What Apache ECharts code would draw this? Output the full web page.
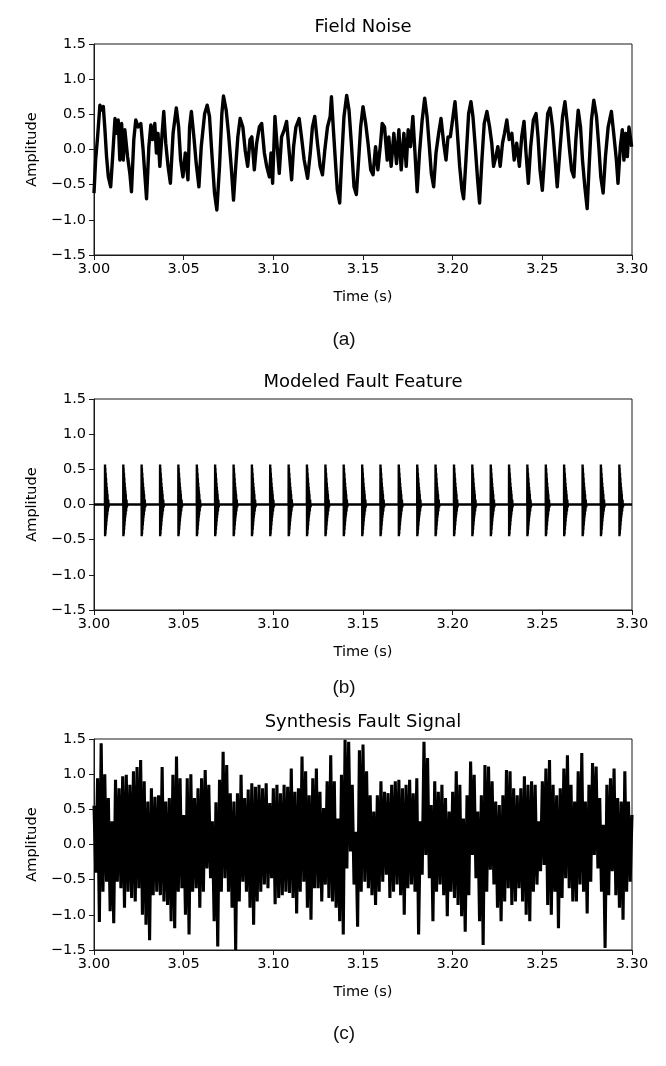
<!DOCTYPE html>
<html>
<head>
<meta charset="utf-8">
<script src="https://cdn.jsdelivr.net/npm/echarts@6/dist/echarts.min.js"></script>
<style>
html,body{margin:0;padding:0;background:#fff;}
#chart{width:666px;height:1066px;}
</style>
</head>
<body>
<div id="chart"></div>
<script>
// ---------- DATA ----------
const PANEL_TITLES = ['Field Noise', 'Modeled Fault Feature', 'Synthesis Fault Signal'];
const PANEL_TAGS = ['(a)', '(b)', '(c)'];
const X_TICKS = [3.00, 3.05, 3.10, 3.15, 3.20, 3.25, 3.30];
const Y_TICKS = [-1.5, -1.0, -0.5, 0.0, 0.5, 1.0, 1.5];

// (a) Field noise: successive turning points [time s, amplitude]
const NOISE = [
[3.0000,-0.62],[3.0009,-0.15],[3.0020,0.18],[3.0033,0.63],[3.0043,0.56],[3.0052,0.61],[3.0061,0.28],[3.0070,-0.10],
[3.0080,-0.39],[3.0093,-0.53],[3.0104,-0.10],[3.0117,0.44],[3.0126,0.23],[3.0135,0.42],[3.0144,-0.15],[3.0154,0.37],
[3.0163,-0.15],[3.0172,0.28],[3.0187,-0.10],[3.0200,-0.34],[3.0209,-0.60],[3.0222,0.14],[3.0233,0.42],[3.0246,0.32],
[3.0261,0.37],[3.0274,-0.01],[3.0283,-0.34],[3.0293,-0.70],[3.0306,0.04],[3.0317,0.35],[3.0326,0.14],[3.0339,0.37],
[3.0348,-0.05],[3.0357,0.23],[3.0367,-0.24],[3.0376,0.09],[3.0389,0.54],[3.0400,0.09],[3.0413,-0.24],[3.0426,-0.48],
[3.0441,0.23],[3.0459,0.59],[3.0472,0.32],[3.0483,-0.15],[3.0496,-0.39],[3.0509,-0.05],[3.0524,-0.43],[3.0533,0.32],
[3.0543,0.54],[3.0557,0.18],[3.0570,-0.20],[3.0585,-0.53],[3.0598,0.04],[3.0617,0.51],[3.0631,0.63],[3.0644,0.47],
[3.0657,-0.05],[3.0672,-0.62],[3.0685,-0.86],[3.0700,-0.24],[3.0713,0.51],[3.0722,0.76],[3.0737,0.56],[3.0750,0.23],
[3.0765,-0.24],[3.0778,-0.72],[3.0789,-0.29],[3.0802,0.18],[3.0815,0.44],[3.0830,0.32],[3.0843,-0.01],[3.0857,-0.24],
[3.0870,0.14],[3.0880,0.18],[3.0894,-0.29],[3.0907,0.09],[3.0922,0.32],[3.0935,0.37],[3.0950,-0.05],[3.0963,-0.24],
[3.0978,-0.39],[3.0987,-0.05],[3.0996,-0.48],[3.1009,0.47],[3.1020,0.09],[3.1033,-0.34],[3.1046,0.18],[3.1061,0.28],
[3.1074,0.40],[3.1089,-0.05],[3.1102,-0.43],[3.1113,0.04],[3.1126,0.32],[3.1144,0.44],[3.1157,0.18],[3.1172,-0.15],
[3.1191,-0.41],[3.1206,-0.05],[3.1218,0.32],[3.1231,0.47],[3.1246,0.09],[3.1261,-0.24],[3.1274,-0.36],[3.1287,-0.01],
[3.1302,0.32],[3.1317,0.47],[3.1324,0.75],[3.1335,0.28],[3.1348,-0.24],[3.1357,-0.58],[3.1370,-0.76],[3.1381,-0.15],
[3.1394,0.47],[3.1409,0.77],[3.1422,0.56],[3.1435,0.09],[3.1450,-0.53],[3.1463,-0.64],[3.1478,-0.05],[3.1487,0.32],
[3.1500,0.61],[3.1515,0.37],[3.1528,0.09],[3.1543,-0.29],[3.1556,-0.36],[3.1570,0.04],[3.1583,-0.29],[3.1598,0.09],
[3.1607,0.37],[3.1620,0.32],[3.1635,-0.15],[3.1644,0.18],[3.1657,-0.24],[3.1672,0.23],[3.1687,-0.20],[3.1700,0.28],
[3.1713,-0.29],[3.1728,0.23],[3.1741,-0.24],[3.1752,0.28],[3.1765,0.04],[3.1778,0.47],[3.1789,-0.01],[3.1802,-0.60],
[3.1815,-0.05],[3.1830,0.42],[3.1844,0.73],[3.1857,0.47],[3.1870,0.04],[3.1881,-0.34],[3.1894,-0.53],[3.1907,-0.05],
[3.1922,0.23],[3.1935,0.44],[3.1950,0.09],[3.1963,-0.15],[3.1974,0.18],[3.1987,0.18],[3.2002,0.47],[3.2013,0.68],
[3.2024,0.32],[3.2039,-0.24],[3.2052,-0.58],[3.2061,-0.70],[3.2074,-0.15],[3.2089,0.51],[3.2102,0.68],[3.2113,0.47],
[3.2126,0.04],[3.2139,-0.43],[3.2150,-0.76],[3.2163,-0.15],[3.2176,0.37],[3.2191,0.54],[3.2206,0.32],[3.2218,0.09],
[3.2228,-0.24],[3.2241,-0.10],[3.2252,0.04],[3.2265,-0.24],[3.2278,0.09],[3.2289,0.23],[3.2302,0.42],[3.2315,0.14],
[3.2330,0.23],[3.2343,-0.15],[3.2357,0.09],[3.2372,-0.24],[3.2385,0.18],[3.2398,0.40],[3.2409,-0.05],[3.2422,-0.48],
[3.2435,0.04],[3.2450,0.42],[3.2465,0.51],[3.2476,0.18],[3.2487,-0.29],[3.2500,-0.58],[3.2515,-0.01],[3.2530,0.51],
[3.2543,0.59],[3.2557,0.32],[3.2570,-0.10],[3.2583,-0.53],[3.2598,-0.01],[3.2613,0.47],[3.2626,0.68],[3.2639,0.37],
[3.2650,0.04],[3.2663,-0.29],[3.2676,-0.39],[3.2687,0.14],[3.2700,0.56],[3.2713,0.32],[3.2724,-0.15],[3.2737,-0.53],
[3.2750,-0.84],[3.2761,-0.24],[3.2774,0.42],[3.2787,0.70],[3.2802,0.47],[3.2815,0.04],[3.2826,-0.39],[3.2839,-0.62],
[3.2852,-0.10],[3.2867,0.32],[3.2885,0.54],[3.2898,0.23],[3.2913,-0.15],[3.2922,-0.48],[3.2935,0.04],[3.2946,0.28],
[3.2955,-0.15],[3.2965,0.23],[3.2974,-0.10],[3.2983,0.32],[3.2998,0.04]
];

// (b) Modeled fault feature: impulse onset times (s) and one impulse's ringing (offset s, amplitude)
const IMPULSE_TIMES = [3.0061,3.0163,3.0265,3.0368,3.0470,3.0573,3.0675,3.0778,3.0880,3.0982,
  3.1085,3.1187,3.1290,3.1392,3.1495,3.1597,3.1699,3.1802,3.1904,3.2007,
  3.2109,3.2212,3.2314,3.2416,3.2519,3.2621,3.2724,3.2826,3.2929];
const PULSE_OFFSETS = [0,0.00005,0.0001,0.0002,0.0003,0.0004,0.0005,0.0006,0.0007,0.0008,0.0009,
  0.0010,0.0011,0.0012,0.0013,0.0014,0.0016,0.0018,0.0020,0.0023];
const PULSE_VALUES = [0,0.57,-0.45,0.52,-0.42,0.45,-0.36,0.38,-0.30,0.31,-0.24,
  0.25,-0.19,0.20,-0.15,0.15,-0.10,0.07,-0.04,0];

// (c) Synthesis signal: per 2 ms window, upper and lower extremes
const SYN_START = 3.000;
const SYN_WINDOW = 0.002;
const SYN_UPPER = [
0.55,0.94,1.44,1.00,0.66,0.33,0.92,0.80,0.97,0.99,
0.85,1.04,1.10,1.20,0.90,0.61,0.80,0.68,0.70,1.10,
0.61,0.66,0.99,1.25,0.94,0.42,0.94,1.00,0.66,0.80,
0.94,1.06,0.85,0.33,0.60,0.92,1.32,1.13,0.73,0.61,
0.73,0.99,0.66,0.78,0.87,0.82,0.85,0.80,0.87,0.59,
0.80,
0.85,0.73,0.85,0.82,1.08,0.75,0.80,1.25,1.04,0.70,
0.94,1.08,0.75,0.52,0.90,1.27,0.90,0.37,0.99,1.49,
1.46,0.85,0.18,1.34,1.42,1.04,0.70,0.47,0.70,0.90,
0.75,0.73,0.85,0.90,0.92,0.80,0.85,0.92,0.73,0.94,
0.33,1.46,1.23,0.56,0.90,0.75,0.85,0.66,0.47,
0.75,1.04,0.85,0.37,0.70,1.18,0.99,0.47,0.70,1.13,
1.11,0.90,0.61,0.56,0.70,1.06,1.04,0.80,0.70,0.80,
0.97,0.85,0.90,0.85,0.33,0.90,1.08,1.20,0.85,0.70,
0.80,1.08,1.27,0.85,0.61,1.04,1.30,0.61,0.85,1.16,
1.11,0.66,0.28,0.85,0.94,1.08,0.66,0.61,1.04,0.61,
0.42
];
const SYN_LOWER = [
-0.40,-1.10,-0.67,-0.53,-0.95,-1.12,-0.53,-0.62,-0.90,-0.67,
-0.76,-0.81,-0.62,-1.00,-1.14,-1.36,-0.72,-0.67,-0.72,-0.81,
-0.86,-1.09,-1.19,-0.67,-0.62,-1.00,-1.28,-0.67,-0.62,-0.90,
-0.67,-0.34,-0.48,-1.09,-1.45,-0.67,-0.48,-0.67,-0.90,-1.50,
-0.81,-0.53,-0.67,-0.90,-1.14,-0.81,-0.67,-0.57,-0.62,-0.48,
-0.85,
-0.76,-0.72,-0.67,-0.69,-0.76,-0.98,-0.67,-0.53,-0.90,-1.07,
-0.62,-0.62,-0.81,-0.57,-0.76,-0.81,-0.90,-1.09,-1.28,-0.34,
-0.10,-0.57,-1.17,-0.67,-0.53,-0.62,-0.72,-0.86,-0.67,-0.53,
-0.43,-0.76,-0.67,-0.57,-0.72,-1.00,-0.62,-0.57,-0.67,-1.28,
-0.43,-0.15,-0.48,-1.09,-0.67,-0.57,-0.72,-1.02,-0.67,
-0.76,-0.86,-1.02,-1.24,-0.72,-0.15,-0.48,-1.09,-1.43,-0.67,
-0.36,-0.57,-0.90,-1.09,-0.81,-0.62,-0.86,-0.81,-0.62,-0.81,
-1.00,-1.09,-0.67,-0.57,-0.38,-0.29,-0.86,-1.00,-0.67,-1.19,
-0.76,-0.48,-0.62,-0.81,-0.81,-0.57,-0.67,-0.98,-0.53,-0.15,
-0.34,-0.67,-1.47,-0.72,-0.38,-0.72,-0.90,-1.07,-0.67,-0.53,
-0.43
];

// ---------- build series data ----------
const faultData = [[X_TICKS[0], 0]];
IMPULSE_TIMES.forEach(t0 => {
  PULSE_OFFSETS.forEach((dt, i) => faultData.push([t0 + dt, PULSE_VALUES[i]]));
});
faultData.push([X_TICKS[X_TICKS.length - 1], 0]);

const synData = [];
SYN_UPPER.forEach((u, i) => {
  const t = SYN_START + i * SYN_WINDOW;
  synData.push([t, u]);
  if (i < SYN_UPPER.length - 1) synData.push([t + SYN_WINDOW / 2, SYN_LOWER[i]]);
});

// ---------- chart ----------
const FONT = 'DejaVu Sans';
const AX = '#1a1a1a';
const gridTops = [44, 399, 739];
const minus = s => s.replace('-', '\u2212');

const grids = gridTops.map(top => ({
  left: 94, top: top, width: 538, height: 211,
  show: true, borderColor: AX, borderWidth: 1, backgroundColor: 'transparent'
}));
const xAxes = gridTops.map((_, i) => ({
  gridIndex: i, type: 'value',
  min: X_TICKS[0], max: X_TICKS[X_TICKS.length - 1], interval: 0.05,
  name: 'Time (s)', nameLocation: 'middle', nameGap: 35,
  nameTextStyle: { fontFamily: FONT, fontSize: 14.5, color: '#000' },
  axisLine: { onZero: false, lineStyle: { color: AX, width: 1 } },
  axisTick: { show: true, length: 5, lineStyle: { color: AX, width: 1 } },
  axisLabel: { margin: 7, fontFamily: FONT, fontSize: 14.5, color: '#000',
    formatter: v => minus(v.toFixed(2)) },
  splitLine: { show: false }
}));
const yAxes = gridTops.map((_, i) => ({
  gridIndex: i, type: 'value',
  min: Y_TICKS[0], max: Y_TICKS[Y_TICKS.length - 1], interval: 0.5,
  name: 'Amplitude', nameLocation: 'middle', nameGap: 53,
  nameTextStyle: { fontFamily: FONT, fontSize: 14.5, color: '#000' },
  axisLine: { onZero: false, lineStyle: { color: AX, width: 1 } },
  axisTick: { show: true, length: 5, lineStyle: { color: AX, width: 1 } },
  axisLabel: { margin: 8, fontFamily: FONT, fontSize: 14.5, color: '#000',
    formatter: v => minus(v.toFixed(1)) },
  splitLine: { show: false }
}));

const lineSeries = (idx, data, width, join) => ({
  type: 'line', xAxisIndex: idx, yAxisIndex: idx, data: data,
  showSymbol: false, symbol: 'none', clip: true, silent: true,
  lineStyle: { color: '#000', width: width, join: join, cap: 'butt', miterLimit: 4 },
  animation: false
});

const titleY = [27, 382, 722];
const tagY = [340, 688, 1034];
const graphics = [];
PANEL_TITLES.forEach((t, i) => graphics.push({
  type: 'text', x: 363, y: titleY[i],
  style: { text: t, font: '18px "DejaVu Sans"', fill: '#000', textAlign: 'center', textVerticalAlign: 'middle' }
}));
PANEL_TAGS.forEach((t, i) => graphics.push({
  type: 'text', x: 344, y: tagY[i],
  style: { text: t, font: '19px "Liberation Sans"', fill: '#111', textAlign: 'center', textVerticalAlign: 'middle' }
}));

const chart = echarts.init(document.getElementById('chart'), null, { renderer: 'canvas' });
chart.setOption({
  animation: false,
  backgroundColor: '#ffffff',
  grid: grids,
  xAxis: xAxes,
  yAxis: yAxes,
  series: [
    lineSeries(0, NOISE, 3.4, 'round'),
    lineSeries(1, faultData, 2.4, 'miter'),
    lineSeries(2, synData, 3.1, 'miter')
  ],
  graphic: graphics
});
</script>
</body>
</html>
